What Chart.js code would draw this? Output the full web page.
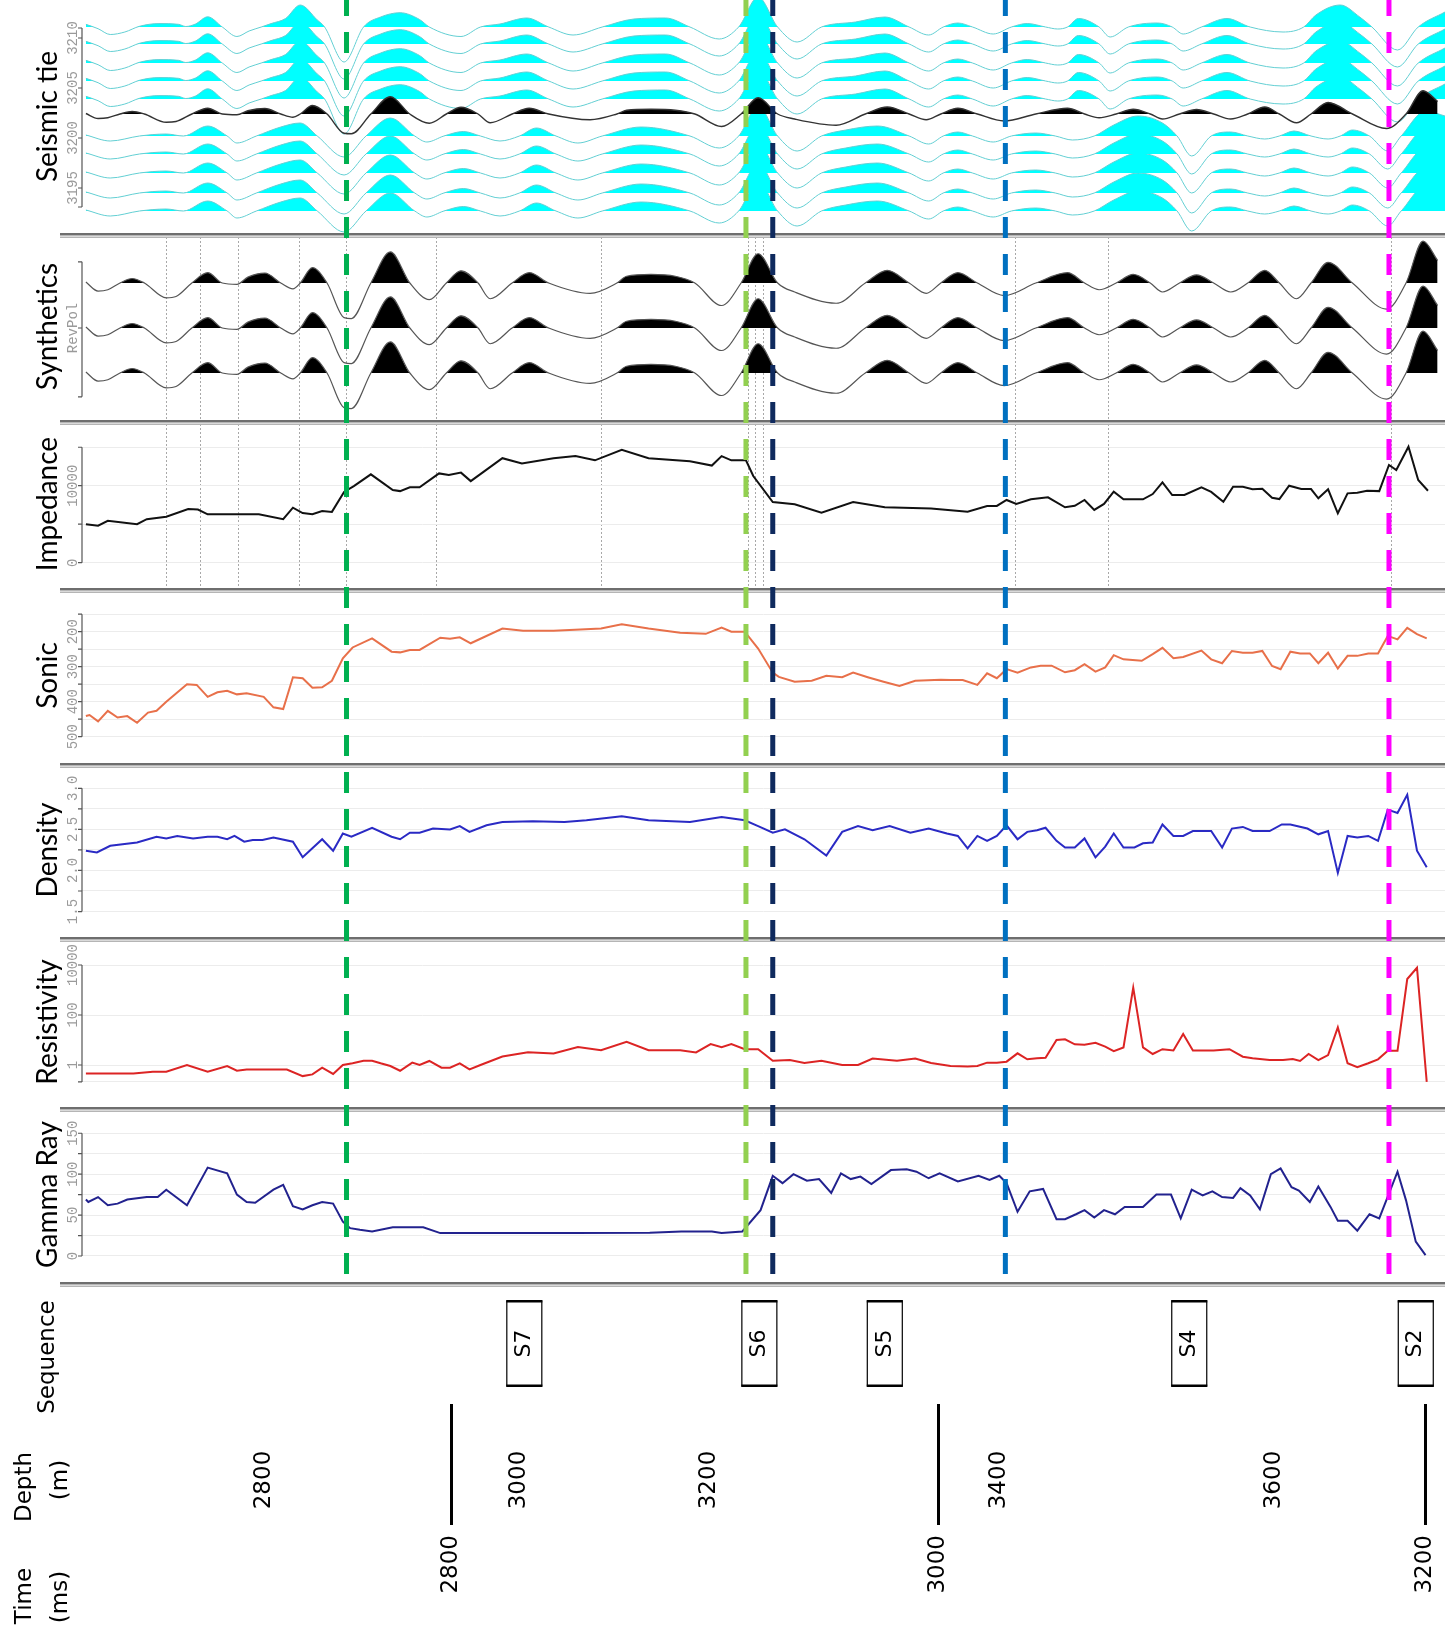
<!DOCTYPE html>
<html>
<head>
<meta charset="utf-8">
<title>Well tie</title>
<script src="https://cdn.jsdelivr.net/npm/chart.js@4.4.1/dist/chart.umd.min.js"></script>
<style>
  html, body { margin: 0; padding: 0; background: #fff; }
  #page { position: relative; width: 1455px; height: 1640px; overflow: hidden; }
  #page canvas { position: absolute; left: 0; }
</style>
</head>
<body>
<div id="page"></div>
<script>
/* Two-way time (ms) window shared by every track. */
const timeMin = 2648.4
const timeMax = 3208

/* Interpreted horizons (dashed) and well markers (dotted). */
const horizonTimes = [2757, 2921, 2932, 3027.5, 3185]
const markerTimes = [2683, 2697, 2712.5, 2737.5, 2757, 2794, 2861.5, 2922, 2925, 2928, 3031.5, 3070, 3186]

/* Bottom annotation: sequences, depth and time scales. */
const sequenceNames = ["S7", "S6", "S5", "S4", "S2"]
const sequenceTimes = [2830, 2926.5, 2978, 3103, 3196]
const depthLabels = [2800, 3000, 3200, 3400, 3600]
const depthTimes = [2723, 2828, 2906, 3025, 3138]
const timeTicks = [2800, 3000, 3200]

/* Seismic gather: trace positions (CDP) and wiggle amplitudes [time, amplitude]. */
const upperTraceCdp = [3211.1, 3209.4, 3207.5, 3205.7, 3203.9]
const wellTraceCdp = 3202.4
const lowerTraceCdp = [3200.2, 3198.4, 3196.5, 3194.5, 3192.7]
const seismicTicks = [3193.1, 3195, 3200, 3205, 3210, 3211]
const seismicTickLabels = ["", "3195", "3200", "3205", "3210", ""]

const seismicUpper = [[2650,0.27],[2655,-0.17],[2660,-0.75],[2666,-0.5],[2672,0.07],[2680,0.34],[2688,0.27],[2691,0.05],[2695,0.3],[2700,1.02],[2706,0],[2712,-0.95],[2717,-0.4],[2722,0],[2726,0.34],[2732,0.85],[2738,2.2],[2745,0.7],[2748,0],[2756,-3.5],[2764,0],[2771,1.0],[2779,1.43],[2787,0.75],[2791,0],[2804,-0.95],[2812,0],[2820,0.3],[2831,0.9],[2840,0],[2850,-0.8],[2862,0],[2875,0.8],[2888,0.9],[2898,0],[2910,-1.2],[2918,0],[2926,3.0],[2934,0],[2942,-1.5],[2952,0],[2966,0.5],[2978,1.0],[2988,0],[2996,-0.8],[3002,0],[3008,0.4],[3014,0],[3022.5,-0.7],[3030,0],[3036.5,0.35],[3044,0],[3049,-0.2],[3053,0],[3057.5,0.85],[3066,0],[3070.5,-1.0],[3078,0],[3090,0.4],[3096,0],[3100.5,-0.7],[3108,0],[3118.5,0.85],[3128,0],[3141.5,-0.5],[3150,0],[3155,1.2],[3165,2.2],[3173,1.0],[3178,0],[3188.5,-2.3],[3197,0],[3208,1.5]]

const seismicLower = [[2650,0.1],[2660,-0.5],[2672,0],[2683,0.2],[2690,0],[2700,1.0],[2708,0],[2712,-0.7],[2720,0],[2730,0.9],[2738,1.3],[2745,0],[2756,-2.1],[2765,0],[2775,1.8],[2785,0],[2790,-0.6],[2797,0],[2805,0.45],[2812,0],[2820,-0.5],[2828,0],[2835,0.8],[2843,0],[2852,-0.7],[2862,0],[2878,0.9],[2898,0],[2910,-1.2],[2918,0],[2926,3.0],[2934,0],[2942,-1.5],[2952,0],[2962,0.6],[2975,1.0],[2988,0],[2996,-0.8],[3002,0],[3008,0.4],[3014,0],[3022.5,-0.6],[3030,0],[3040,0.3],[3048,0],[3055,-0.4],[3064,0],[3072,1.1],[3082,2.0],[3092,1.3],[3098,0],[3104,-2.0],[3112,0],[3120,0.4],[3127,0],[3134,-0.3],[3140,0],[3146,0.5],[3153,0],[3160,-0.3],[3165,0],[3170,0.6],[3177,0],[3184.5,-1.5],[3190,0],[3200,2.5],[3208,2.0]]

/* Synthetic seismogram [time, amplitude in trace spacings], shown three times. */
const synthBases = [3, 2, 1]
const synthTicks = [0.47, 2, 3.47]
const synthTickLabels = ["", "RevPol", ""]
const synthetic = [[2650,0.02],[2655,-0.18],[2659,-0.15],[2664,0],[2669,0.1],[2674,0],[2683,-0.33],[2687,-0.3],[2693.5,0],[2700,0.23],[2706,0],[2712,-0.03],[2716.5,0.13],[2723.5,0.22],[2730,0],[2735,-0.13],[2738,0],[2743,0.34],[2749,0],[2756,-0.77],[2759,-0.79],[2767,0],[2775,0.69],[2783,0],[2791,-0.37],[2798,0],[2804,0.27],[2811,0],[2816,-0.35],[2825,0],[2832,0.23],[2840,0],[2857,-0.23],[2868,0],[2872,0.15],[2882,0.19],[2892,0.15],[2900,0],[2911,-0.5],[2919,0],[2926,0.65],[2934,0],[2941,-0.2],[2958,-0.45],[2970,0],[2979,0.28],[2988,0],[2995,-0.23],[3001,0],[3008,0.23],[3016,0],[3027,-0.28],[3040,0],[3053,0.23],[3060,0],[3066,-0.15],[3073,0],[3080,0.19],[3087,0],[3092,-0.2],[3099,0],[3106,0.18],[3113,0],[3120,-0.2],[3127,0],[3134,0.28],[3140,0],[3147,-0.35],[3153,0],[3160,0.46],[3170,0],[3184,-0.58],[3192,0],[3199,0.93],[3205,0.5]]

/* Logs [time, value]. */
const impedanceTicks = [0, 5000, 10000, 15000]
const impedanceTickLabels = ["0", "", "10000", ""]
const impedance = [[2650,5000],[2655,4800],[2659,5450],[2671,5000],[2675,5650],[2683,5980],[2692,6960],[2696,6900],[2700,6280],[2721,6280],[2731,5650],[2735,7150],[2739,6450],[2743,6300],[2747,6700],[2751,6600],[2756,9200],[2760,9950],[2767,11480],[2776,9440],[2779,9300],[2783,9800],[2787,9800],[2795,11600],[2799,11400],[2804,11700],[2808,10600],[2821,13580],[2829,12900],[2842,13580],[2851,13850],[2859,13300],[2870,14660],[2881,13580],[2898,13170],[2907,12620],[2911,13850],[2915,13300],[2921,13300],[2924,11260],[2932,7870],[2941,7600],[2952,6510],[2965,7870],[2978,7190],[2997,7050],[3012,6630],[3020,7370],[3024,7370],[3028,8150],[3032,7630],[3038,8240],[3045,8500],[3052,7200],[3056,7400],[3060,8150],[3064,6850],[3068,7630],[3072,9220],[3076,8240],[3084,8240],[3088,8920],[3092,10440],[3096,8790],[3101,8790],[3108,9790],[3112,9200],[3117,7920],[3121,9870],[3125,9870],[3129,9530],[3133,9600],[3137,8440],[3140,8270],[3144,10000],[3149,9570],[3153,9570],[3156,8360],[3160,9530],[3164,6420],[3168,9010],[3172,9100],[3176,9350],[3181,9300],[3185,12690],[3188,12040],[3193,15070],[3197,10740],[3201,9350]]

const sonicTicks = [150, 200, 250, 300, 350, 400, 450, 500]
const sonicTickLabels = ["", "200", "", "300", "", "400", "", "500"]
const sonic = [[2650,441],[2651.5,438],[2655,456],[2659,426],[2663,445],[2667,441],[2671,460],[2675.5,431],[2679,426],[2683,400],[2691.5,350],[2695.5,352],[2700,386],[2704,373],[2708,369],[2712,379],[2716,376],[2723,386],[2727,416],[2731,421],[2735,330],[2739,333],[2743,360],[2747,359],[2751,340],[2755.5,276],[2759.5,245],[2767.5,219],[2775.5,257],[2779,259],[2783,252],[2787,252],[2795.5,217],[2799.5,220],[2803.5,216],[2808,233],[2821,191],[2829.5,197],[2842,197],[2853,194],[2861.5,191],[2870,179],[2881,191],[2894,203],[2904.5,206],[2911,188],[2915,200],[2920.5,200],[2926,248],[2932,317],[2934.5,329],[2941,343],[2948,340],[2954,326],[2960.5,330],[2965,317],[2971,330],[2977.5,343],[2984,355],[2990.5,340],[3001,337],[3005,338],[3010,338],[3016,352],[3020,319],[3024,333],[3028,307],[3032.5,317],[3038,302],[3042,297],[3046.5,297],[3052,316],[3056,310],[3060,293],[3064.5,314],[3068.5,302],[3072,267],[3076,279],[3083.5,283],[3088,264],[3092,246],[3096.5,276],[3100.5,272],[3108,254],[3112,279],[3116.5,290],[3120.5,255],[3125,260],[3129,260],[3133,255],[3137,298],[3140.5,307],[3144.5,257],[3148.5,262],[3152.5,262],[3156,290],[3160,260],[3164,305],[3168,269],[3172,269],[3176.5,262],[3180.5,262],[3184.5,212],[3188.5,222],[3192.5,189],[3196.5,207],[3200.5,219]]

const densityTicks = [1.5, 1.75, 2.0, 2.25, 2.5, 2.75, 3.0]
const densityTickLabels = ["1.5", "", "2.0", "", "2.5", "", "3.0"]
const density = [[2650,2.24],[2654.5,2.22],[2660,2.3],[2671,2.34],[2679,2.41],[2683,2.39],[2687.5,2.42],[2694,2.39],[2700,2.41],[2704,2.41],[2708,2.38],[2711,2.42],[2715,2.35],[2718.5,2.37],[2722.5,2.37],[2727,2.4],[2735,2.35],[2739,2.16],[2747,2.38],[2751.5,2.24],[2755.5,2.45],[2759,2.41],[2767.5,2.52],[2775.5,2.41],[2779,2.38],[2783,2.46],[2787,2.46],[2792.5,2.51],[2799.5,2.5],[2803.5,2.54],[2807.5,2.47],[2814.5,2.55],[2821,2.59],[2833.5,2.6],[2846.5,2.59],[2855.5,2.61],[2870,2.66],[2881,2.61],[2898,2.59],[2911,2.65],[2920.5,2.61],[2926,2.54],[2932,2.46],[2937,2.5],[2945,2.38],[2954,2.18],[2960.5,2.47],[2967,2.54],[2973,2.49],[2980,2.54],[2988.5,2.46],[2996,2.51],[3003.5,2.45],[3008,2.42],[3012,2.27],[3016,2.42],[3020,2.36],[3024,2.42],[3028,2.55],[3032.5,2.38],[3036.5,2.47],[3040.5,2.49],[3044,2.52],[3048.5,2.36],[3052,2.28],[3056,2.28],[3060,2.39],[3064.5,2.16],[3068.5,2.29],[3072,2.45],[3076,2.28],[3080.5,2.28],[3084,2.33],[3088,2.34],[3092,2.56],[3096.5,2.42],[3100.5,2.42],[3104.5,2.48],[3112,2.48],[3116.5,2.28],[3120.5,2.51],[3125,2.53],[3129,2.48],[3136,2.48],[3141,2.56],[3144.5,2.56],[3151.5,2.51],[3156,2.44],[3160,2.48],[3164,1.97],[3168,2.42],[3172,2.4],[3176.5,2.42],[3180.5,2.36],[3184.5,2.74],[3188.5,2.7],[3192.5,2.92],[3196.5,2.24],[3200.5,2.04]]

const resistivityTicks = [0.21, 1, 100, 10000]
const resistivityTickLabels = ["", "1", "100", "10000"]
const resistivity = [[2650,0.46],[2669.5,0.46],[2677.5,0.54],[2683,0.54],[2691.5,1.0],[2700,0.54],[2708,0.91],[2712,0.59],[2716,0.66],[2732.5,0.66],[2739,0.36],[2743,0.42],[2747,0.78],[2751.5,0.44],[2755.5,1.0],[2759.5,1.17],[2764,1.49],[2767.5,1.49],[2771,1.17],[2775,0.91],[2779,0.59],[2784,1.24],[2787,1.0],[2791,1.45],[2796,0.78],[2799.5,0.78],[2803.5,1.17],[2807.5,0.67],[2812,1.0],[2821,2.18],[2831.5,3.2],[2842,2.9],[2852,5.2],[2861.5,3.9],[2872,8.4],[2881,3.9],[2894,3.9],[2900.5,3.2],[2906.5,6.9],[2911,5.2],[2915,6.9],[2920.5,4.3],[2926,4.3],[2932,1.48],[2939,1.6],[2945,1.2],[2952,1.48],[2960.5,1.0],[2967,1.0],[2973,1.8],[2983,1.48],[2990.5,1.8],[2997,1.2],[3005,0.91],[3012,0.87],[3016,0.91],[3020,1.24],[3024,1.24],[3028,1.36],[3032.5,2.93],[3036.5,1.69],[3040.5,1.85],[3044,1.96],[3048.5,10.0],[3052,10.7],[3056,6.7],[3060,6.4],[3064.5,7.8],[3068.5,5.4],[3072,3.6],[3076,5.0],[3080,1240],[3084,5.1],[3088,2.75],[3092,4.3],[3096.5,3.8],[3100.5,17.4],[3104.5,3.8],[3113,3.8],[3119.5,4.3],[3125,2.15],[3129,1.85],[3136,1.58],[3141.5,1.58],[3145.5,1.75],[3148.5,1.45],[3152,2.75],[3156,1.58],[3160,2.5],[3164,32],[3168,1.17],[3172,0.81],[3176.5,1.17],[3180.5,1.69],[3184.5,3.7],[3188.5,3.7],[3192.5,2750],[3196.5,7750],[3200.5,0.21]]

const gammaTicks = [0, 25, 50, 75, 100, 125, 150]
const gammaTickLabels = ["0", "", "50", "", "100", "", "150"]
const gammaRay = [[2650,69],[2651,66],[2655,72],[2659,62],[2663,64],[2667,69],[2675,72],[2679.5,72],[2683,81],[2691.5,62],[2700,108],[2708,101],[2712,75],[2716,66],[2719.5,65],[2727,81],[2731,87],[2735,61],[2739,57],[2743,62],[2747,66],[2751.5,64],[2755.5,42],[2758.5,34],[2762.5,32],[2767.5,30],[2776,35],[2788.5,35],[2795.5,28],[2820,28],[2850,28],[2881.5,28.5],[2894.5,30],[2907,30],[2911,28],[2919.5,30],[2927,56],[2932,98],[2936,89],[2940.5,100],[2946,92],[2951,94],[2956,77],[2960,101],[2964,94],[2968,97],[2972.5,88],[2980.5,105],[2987,106],[2991,103],[2996,95],[3000.5,101],[3008,91],[3016.5,98],[3021,93],[3025,98],[3028,89],[3032.5,54],[3037.5,79],[3043,82],[3048.5,45],[3052,45],[3056.5,51],[3060,56],[3064,47],[3068,56],[3072.5,51],[3076.5,60],[3084,60],[3089.5,75],[3095.5,75],[3099.5,46],[3104,81],[3108.5,74],[3112.5,79],[3116.5,72],[3121,71],[3124,83],[3128,74],[3132,57],[3136.5,100],[3140.5,107],[3145,84],[3148,80],[3152.5,66],[3156,85],[3161,60],[3164,43],[3168,43],[3172,31],[3177,51],[3181,46],[3188.5,103],[3192,68],[3196,17.5],[3200,1]]

/* Styles. */
const horizonColors = ["#00b050", "#92d050", "#0f2a5e", "#0070c0", "#ff00ff"]
const page = document.getElementById("page")

/* Straight log curve. */
const logLine = (pairs, color) => ({
  data: pairs.map(([x, y]) => ({ x, y })),
  borderColor: color,
  borderWidth: 2,
  pointRadius: 0,
  tension: 0,
  fill: false
})

/* Wiggle trace with the positive lobes filled. */
const wiggle = (pairs, base, gain, fillColor, lineColor, width) => ({
  data: pairs.map(([x, a]) => ({ x, y: base + a * gain })),
  borderColor: lineColor,
  borderWidth: width,
  pointRadius: 0,
  cubicInterpolationMode: "monotone",
  fill: { target: { value: base }, above: fillColor, below: "rgba(0,0,0,0)" }
})

const vtext = (ctx, s, x, y) => {
  ctx.save()
  ctx.translate(x, y)
  ctx.rotate(-Math.PI / 2)
  ctx.fillText(s, 0, 0)
  ctx.restore()
}

const drawSeparator = (ctx) => {
  ctx.fillStyle = "#6e6e6e"
  ctx.fillRect(60, 0, 1385, 2.5)
  ctx.fillStyle = "#b5b5b5"
  ctx.fillRect(60, 3.5, 1385, 1.5)
}

/* Dashed horizons, drawn so the dash pattern runs on from one track to the next. */
const drawHorizons = (ctx, xs, top, height) => {
  ctx.save()
  ctx.lineWidth = 5
  ctx.setLineDash([21, 16])
  horizonTimes.forEach((t, i) => {
    const x = xs.getPixelForValue(t)
    ctx.strokeStyle = horizonColors[i]
    ctx.beginPath()
    ctx.moveTo(x, -top - 5)
    ctx.lineTo(x, height)
    ctx.stroke()
  })
  ctx.restore()
}

const trackDecor = (p) => ({
  id: "trackDecor",
  afterDraw(chart) {
    const ctx = chart.ctx
    const xs = chart.scales.x
    const ys = chart.scales.y
    ctx.save()
    if (p.top > 0) drawSeparator(ctx)

    /* Short axis line over the tick range. */
    const pix = p.ticks.map(v => ys.getPixelForValue(v))
    ctx.strokeStyle = "#555"
    ctx.lineWidth = 1.2
    ctx.beginPath()
    ctx.moveTo(82, Math.min(...pix))
    ctx.lineTo(82, Math.max(...pix))
    pix.forEach(y => { ctx.moveTo(78, y); ctx.lineTo(82, y) })
    ctx.stroke()

    ctx.fillStyle = "#9a9a9a"
    ctx.font = '14px "Liberation Mono"'
    ctx.textAlign = "center"
    ctx.textBaseline = "middle"
    p.ticks.forEach((v, i) => {
      if (p.labels[i]) vtext(ctx, p.labels[i], 73, pix[i])
    })
    ctx.restore()
    drawHorizons(ctx, xs, p.top, chart.height)
  }
})

const makeTrack = (p) => {
  const canvas = document.createElement("canvas")
  const h = p.bottom - p.top
  canvas.width = 1455
  canvas.height = h
  canvas.style.top = p.top + "px"
  canvas.style.width = "1455px"
  canvas.style.height = h + "px"
  page.appendChild(canvas)

  new Chart(canvas.getContext("2d"), {
    type: "line",
    data: { datasets: p.datasets },
    options: {
      responsive: false,
      animation: false,
      events: [],
      layout: { padding: { left: 0, right: 10, top: 0, bottom: 0 } },
      plugins: { legend: { display: false }, tooltip: { enabled: false } },
      scales: {
        x: {
          type: "linear",
          min: timeMin,
          max: timeMax,
          afterBuildTicks: s => { s.ticks = markerTimes.map(v => ({ value: v })) },
          ticks: { display: false },
          border: { display: false, dash: [2, 2] },
          grid: { display: p.dotted, drawTicks: false, color: "#a8a8a8", lineWidth: 1 }
        },
        y: {
          type: p.log ? "logarithmic" : "linear",
          min: p.min,
          max: p.max,
          reverse: !!p.reverse,
          afterFit: s => { s.width = 82 },
          afterBuildTicks: s => { s.ticks = p.ticks.map(v => ({ value: v })) },
          ticks: { display: false },
          border: { display: false },
          grid: { display: p.grid, drawTicks: false, color: "#ececec", lineWidth: 1 },
          title: {
            display: true,
            text: p.title,
            color: "#000",
            font: { family: "Lato", size: 28 },
            padding: { top: 31, bottom: 0 }
          }
        }
      }
    },
    plugins: [trackDecor(p)]
  })
}

/* Seismic tie: well trace on top of the gather. */
const seismicSets = [
  wiggle(synthetic, wellTraceCdp, 2.5, "#000", "#333", 1.4),
  ...upperTraceCdp.map(c => wiggle(seismicUpper, c, 1, "#00ffff", "#63cfd3", 1)),
  ...lowerTraceCdp.map(c => wiggle(seismicLower, c, 1, "#00ffff", "#63cfd3", 1))
]
const synthSets = synthBases.map(b => wiggle(synthetic, b, 1, "#000", "#555", 1.2))

const tracks = [
  { title: "Seismic tie", top: 0, bottom: 233, min: 3190.5, max: 3213.8, ticks: seismicTicks, labels: seismicTickLabels, grid: false, dotted: false, datasets: seismicSets },
  { title: "Synthetics", top: 233, bottom: 420, min: -0.0444, max: 4.1111, ticks: synthTicks, labels: synthTickLabels, grid: false, dotted: true, datasets: synthSets },
  { title: "Impedance", top: 420, bottom: 588, min: -3286, max: 18537, ticks: impedanceTicks, labels: impedanceTickLabels, grid: true, dotted: true, datasets: [logLine(impedance, "#111")] },
  { title: "Sonic", top: 588, bottom: 763, min: 75.1, max: 575.1, reverse: true, ticks: sonicTicks, labels: sonicTickLabels, grid: true, dotted: false, datasets: [logLine(sonic, "#e8704a")] },
  { title: "Density", top: 763, bottom: 937, min: 1.19, max: 3.308, ticks: densityTicks, labels: densityTickLabels, grid: true, dotted: false, datasets: [logLine(density, "#2a2ac4")] },
  { title: "Resistivity", top: 937, bottom: 1107, log: true, min: 0.0209, max: 131826, ticks: resistivityTicks, labels: resistivityTickLabels, grid: true, dotted: false, datasets: [logLine(resistivity, "#dc2424")] },
  { title: "Gamma Ray", top: 1107, bottom: 1282, min: -31.8, max: 182.1, ticks: gammaTicks, labels: gammaTickLabels, grid: true, dotted: false, datasets: [logLine(gammaRay, "#22228e")] }
]

tracks.forEach(makeTrack)

/* Bottom block: sequence boxes, depth labels and the time axis. */
const bottomDecor = {
  id: "bottomDecor",
  afterDraw(chart) {
    const ctx = chart.ctx
    const xs = chart.scales.x
    ctx.save()
    drawSeparator(ctx)
    ctx.fillStyle = "#000"
    ctx.strokeStyle = "#000"
    ctx.textAlign = "center"
    ctx.textBaseline = "middle"

    ctx.font = '22px "DejaVu Sans"'
    sequenceNames.forEach((name, i) => {
      const x = xs.getPixelForValue(sequenceTimes[i])
      ctx.lineWidth = 1.2
      ctx.strokeRect(x - 17.5, 19, 35, 85)
      ctx.fillRect(x - 18, 18, 36, 2.5)
      ctx.fillRect(x - 18, 102.5, 36, 2.5)
      vtext(ctx, name, x, 61.5)
    })

    ctx.font = '23px "DejaVu Sans"'
    depthLabels.forEach((d, i) => vtext(ctx, String(d), xs.getPixelForValue(depthTimes[i]), 198))

    vtext(ctx, "Sequence", 48, 75)
    vtext(ctx, "Depth", 25, 205)
    vtext(ctx, "(m)", 61, 198)
    vtext(ctx, "Time", 25, 314)
    vtext(ctx, "(ms)", 61, 315)
    ctx.restore()
  }
}

const bottomCanvas = document.createElement("canvas")
bottomCanvas.width = 1455
bottomCanvas.height = 358
bottomCanvas.style.top = "1282px"
bottomCanvas.style.width = "1455px"
bottomCanvas.style.height = "358px"
page.appendChild(bottomCanvas)

new Chart(bottomCanvas.getContext("2d"), {
  type: "line",
  data: { datasets: [] },
  options: {
    responsive: false,
    animation: false,
    events: [],
    layout: { padding: { left: 82, right: 10, top: 0, bottom: 0 } },
    plugins: { legend: { display: false }, tooltip: { enabled: false } },
    scales: {
      x: {
        type: "linear",
        min: timeMin,
        max: timeMax,
        position: "bottom",
        afterBuildTicks: s => { s.ticks = timeTicks.map(v => ({ value: v })) },
        afterFit: s => {
          s.height = 1640 - 1404
          s.paddingLeft = 0
          s.paddingRight = 0
        },
        ticks: {
          autoSkip: false,
          minRotation: 90,
          maxRotation: 90,
          padding: 10,
          color: "#000",
          font: { family: "DejaVu Sans", size: 23 },
          callback: v => String(v)
        },
        grid: { drawOnChartArea: false, drawTicks: true, tickLength: 121, tickWidth: 3, tickColor: "#000" },
        border: { display: false }
      },
      y: { display: false }
    }
  },
  plugins: [bottomDecor]
})
</script>
</body>
</html>
